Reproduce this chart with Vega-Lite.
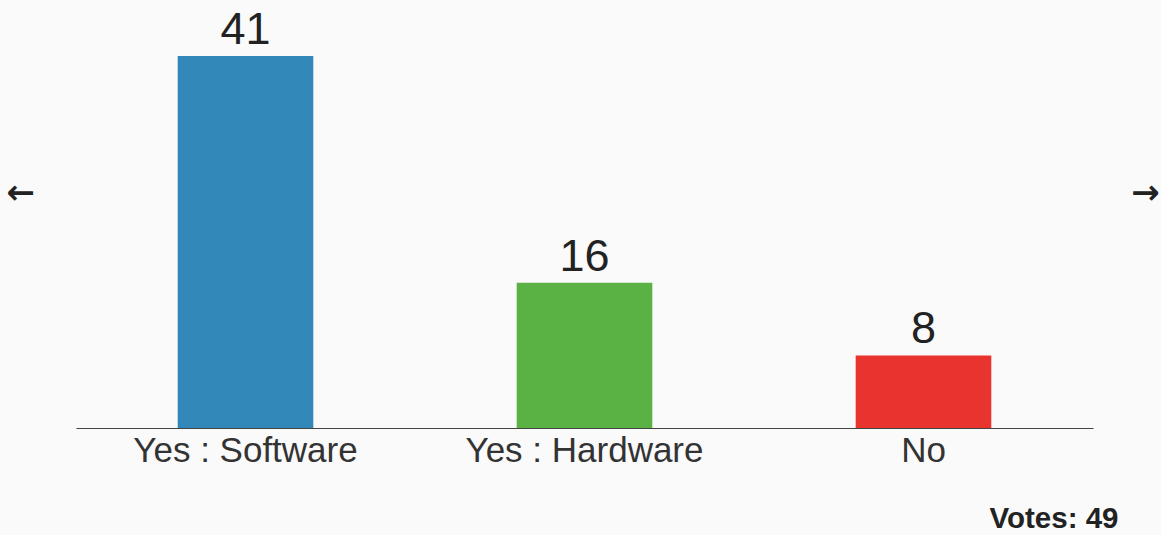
{
  "$schema": "https://vega.github.io/schema/vega-lite/v6.json",
  "autosize": {"type": "none"},
  "width": 1017,
  "height": 418,
  "padding": {"left": 76, "top": 10, "right": 68, "bottom": 107},
  "background": "#fafafa",
  "config": {
    "view": {"stroke": null},
    "font": "Liberation Sans"
  },
  "data": {
    "values": [
      {"answer": "Yes : Software", "votes": 41, "color": "#3288b9"},
      {"answer": "Yes : Hardware", "votes": 16, "color": "#5ab245"},
      {"answer": "No", "votes": 8, "color": "#e8332f"}
    ]
  },
  "encoding": {
    "x": {
      "field": "answer",
      "type": "nominal",
      "sort": null,
      "scale": {"paddingInner": 0.6, "paddingOuter": 0.3},
      "axis": {
        "title": "Votes: 49",
        "titleFontSize": 29.5,
        "titleFontWeight": "bold",
        "titleColor": "#222",
        "titleAnchor": "end",
        "titleAlign": "right",
        "titleBaseline": "alphabetic",
        "titleX": 1042,
        "titleY": 99,
        "labelAngle": 0,
        "labelFontSize": 35,
        "labelLimit": 0,
        "labelColor": "#333",
        "labelPadding": 5,
        "ticks": false,
        "tickSize": 0,
        "domainColor": "#444",
        "domainWidth": 1
      }
    }
  },
  "layer": [
    {
      "mark": {"type": "bar"},
      "encoding": {
        "y": {
          "field": "votes",
          "type": "quantitative",
          "scale": {"domain": [0, 46.08], "nice": false},
          "axis": {
            "title": "←",
            "titleFont": "DejaVu Sans",
            "titleAngle": 0,
            "titleFontSize": 34,
            "titleFontWeight": "bold",
            "titleColor": "#222",
            "titleX": -56,
            "titleY": 183,
            "titleAlign": "center",
            "titleBaseline": "middle",
            "labels": false,
            "ticks": false,
            "domain": false,
            "grid": false
          }
        },
        "color": {"field": "color", "type": "nominal", "scale": null}
      }
    },
    {
      "mark": {"type": "text", "baseline": "alphabetic", "dy": -12, "fontSize": 45, "color": "#222"},
      "encoding": {
        "y": {
          "field": "votes",
          "type": "quantitative",
          "scale": {"domain": [0, 46.08], "nice": false},
          "axis": {
            "orient": "right",
            "title": "→",
            "titleFont": "DejaVu Sans",
            "titleAngle": 0,
            "titleFontSize": 34,
            "titleFontWeight": "bold",
            "titleColor": "#222",
            "titleX": 52,
            "titleY": 183,
            "titleAlign": "center",
            "titleBaseline": "middle",
            "labels": false,
            "ticks": false,
            "domain": false,
            "grid": false
          }
        },
        "text": {"field": "votes", "type": "quantitative"}
      }
    }
  ],
  "resolve": {"scale": {"y": "independent"}, "axis": {"y": "independent"}}
}
